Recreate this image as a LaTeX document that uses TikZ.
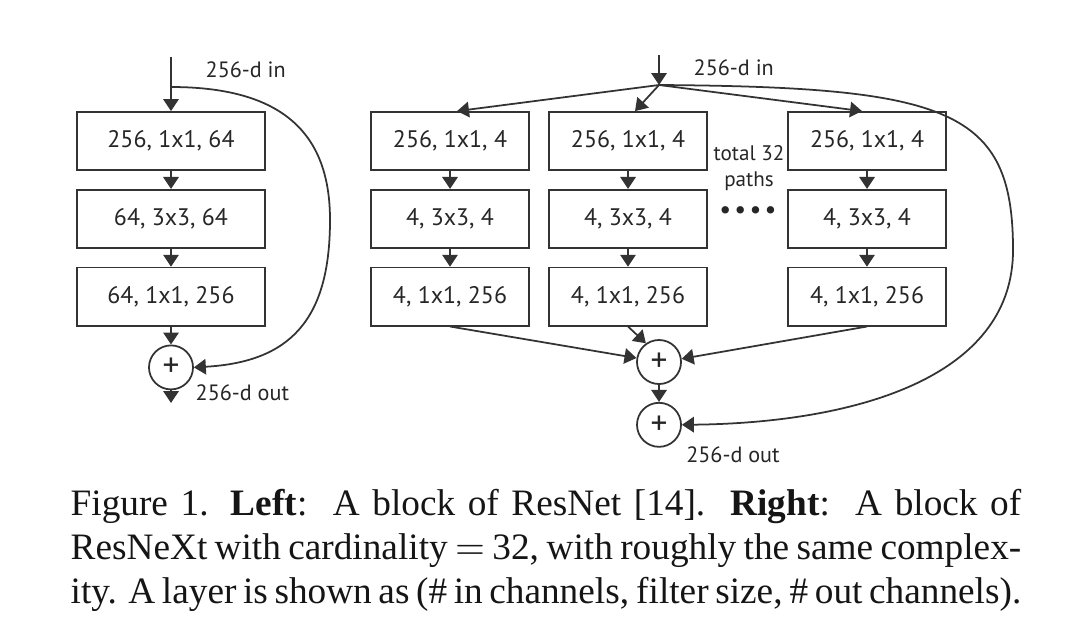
\documentclass[tikz,border=0pt]{standalone}
\usepackage{fontspec}
\setmainfont{Liberation Serif}
\newfontfamily\diagfont{PT Sans}
\usetikzlibrary{arrows.meta,positioning}
\definecolor{linegray}{HTML}{333333}
\definecolor{textgray}{HTML}{262626}
\definecolor{captionblack}{HTML}{151515}

\begin{document}
\begin{tikzpicture}[
  x=0.01cm, y=-0.01cm,
  node distance=0.18cm,
  layer_box/.style={draw=linegray, line width=0.5pt, minimum height=0.58cm, inner sep=0pt, text=textgray, font=\diagfont\fontsize{6.8}{8}\selectfont},
  wide_box/.style={layer_box, minimum width=1.88cm},
  path_box/.style={layer_box, minimum width=1.58cm},
  sum_node/.style={draw=linegray, line width=0.5pt, circle, minimum size=0.44cm, inner sep=0pt, text=textgray, font=\diagfont\fontsize{9.5}{9.5}\selectfont},
  label_text/.style={inner sep=0pt, text=textgray, font=\diagfont\fontsize{6.3}{7.4}\selectfont},
  caption_line/.style={anchor=base west, inner sep=0pt, text=captionblack, font=\fontsize{10.6}{12.5}\selectfont},
  flow/.style={draw=linegray, line width=0.5pt, -{Triangle[width=4.4pt,length=3.4pt]}}
]
\useasboundingbox (0,0) rectangle (1080,633);

% ResNet block (left)
\node[wide_box] (l_conv1) at (171,141) {256, 1x1, 64};
\node[wide_box, below=of l_conv1] (l_conv2) {64, 3x3, 64};
\node[wide_box, below=of l_conv2] (l_conv3) {64, 1x1, 256};
\node[sum_node, below=of l_conv3] (l_sum) {+};
\coordinate (l_in) at (171,57);
\coordinate (l_split) at (171,87);
\coordinate (l_out) at (171,403);
\node[label_text, anchor=west] (l_in_label) at (205,70) {256-d in};
\node[label_text, anchor=west] (l_out_label) at (195,393) {256-d out};

\draw[flow] (l_in) -- (l_conv1);
\draw[flow] (l_conv1) -- (l_conv2);
\draw[flow] (l_conv2) -- (l_conv3);
\draw[flow] (l_conv3) -- (l_sum);
\draw[flow] (l_sum) -- (l_out);
\draw[flow] (l_split) .. controls (290,87) and (330,140) .. (330,220) .. controls (330,320) and (290,362) .. (l_sum.east);

% ResNeXt block (right)
\node[path_box] (a_conv1) at (450,141) {256, 1x1, 4};
\node[path_box] (b_conv1) at (628,141) {256, 1x1, 4};
\node[path_box] (c_conv1) at (867,141) {256, 1x1, 4};
\foreach \col in {a,b,c} {
  \node[path_box, below=of \col_conv1] (\col_conv2) {4, 3x3, 4};
  \node[path_box, below=of \col_conv2] (\col_conv3) {4, 1x1, 256};
}
\node[sum_node] (r_sum1) at (659,362) {+};
\node[sum_node, below=0.17cm of r_sum1] (r_sum2) {+};
\coordinate (r_in) at (659,55);
\coordinate (r_split) at (659,85);
\node[label_text, anchor=west] (r_in_label) at (693,68) {256-d in};
\node[label_text] (r_out_label) at (733,455) {256-d out};
\node[label_text, align=center, font=\diagfont\fontsize{6}{7.4}\selectfont] (paths_label) at (749,168) {total 32\\paths};
\node[label_text, font=\diagfont\fontsize{7.5}{7.5}\selectfont] (dots_label) at (748,213) {•\hspace{0.9pt}•\hspace{0.9pt}•\hspace{0.9pt}•};

\draw[flow] (r_in) -- (r_split);
\draw[flow] (r_split) -- ([xshift=0.07cm]a_conv1.north);
\draw[flow] (r_split) -- ([xshift=0.07cm]b_conv1.north);
\draw[flow] (r_split) -- ([xshift=-0.05cm]c_conv1.north);
\foreach \col in {a,b,c} {
  \draw[flow] (\col_conv1) -- (\col_conv2);
  \draw[flow] (\col_conv2) -- (\col_conv3);
}
\draw[flow] (a_conv3.south) -- (r_sum1.170);
\draw[flow] (b_conv3.south) -- (r_sum1.125);
\draw[flow] (c_conv3.south) -- (r_sum1.8);
\draw[flow] (r_sum1) -- (r_sum2);
\draw[flow] (r_split) .. controls (950,87) and (1013,110) .. (1013,250) .. controls (1013,380) and (850,423) .. (r_sum2.east);

% Caption
\node[caption_line] (caption_l1) at (70,515) {\makebox[9.5cm][s]{Figure 1. \textbf{Left}:\ \ A block of ResNet [14].\ \ \textbf{Right}:\ \ A block of}};
\node[caption_line] (caption_l2) at (70,559) {\makebox[9.5cm][s]{ResNeXt with cardinality $=$ 32, with roughly the same complex-}};
\node[caption_line] (caption_l3) at (70,603) {\makebox[9.5cm][s]{ity. A layer is shown as (\# in channels, filter size, \# out channels).}};
\end{tikzpicture}
\end{document}
